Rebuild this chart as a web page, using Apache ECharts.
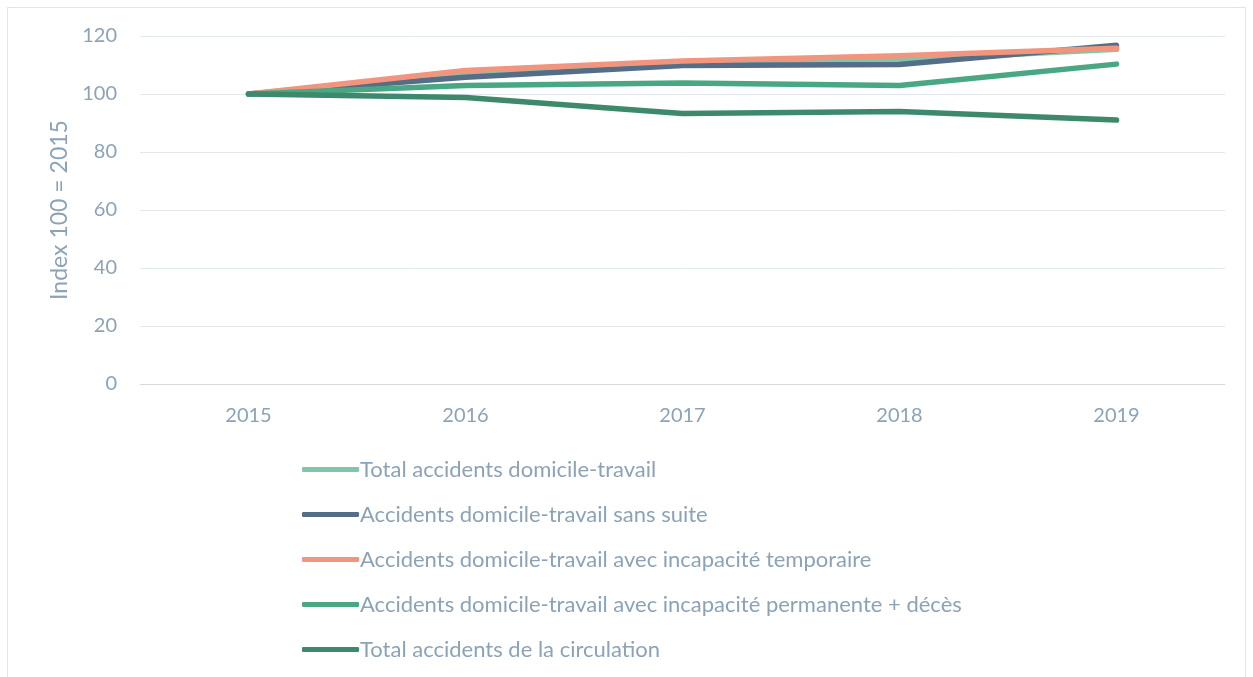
<!DOCTYPE html>
<html>
<head>
<meta charset="utf-8">
<script src="https://cdn.jsdelivr.net/npm/echarts@6/dist/echarts.min.js"></script>
<style>
  html, body { margin: 0; padding: 0; background: #fff; }
  #frame { position: absolute; left: 7px; top: 7px; width: 1239px; height: 680px; border: 1px solid #e2e6ea; box-sizing: border-box; }
  #chart { position: absolute; left: 0; top: 0; width: 1253px; height: 677px; }
</style>
</head>
<body>
<div id="frame"></div>
<div id="chart"></div>
<script>
// years on the x axis
var years = ['2015', '2016', '2017', '2018', '2019'];

// index values, 100 = 2015
var totalDomicile = [100, 106.8, 110.6, 111.7, 115.4];
var sansSuite = [100, 105.8, 109.8, 110.2, 116.8];
var incapTemporaire = [100, 108.1, 111.4, 113.2, 115.8];
var incapPermanente = [100, 102.9, 103.8, 102.9, 110.3];
var totalCirculation = [100, 98.8, 93.3, 94.0, 91.0];

var names = [
    'Total accidents domicile-travail',
    'Accidents domicile-travail sans suite',
    'Accidents domicile-travail avec incapacité temporaire',
    'Accidents domicile-travail avec incapacité permanente + décès',
    'Total accidents de la circulation'
];
var colors = ['#80c6a9', '#546e88', '#f2957f', '#4aa784', '#3e896b'];
var values = [totalDomicile, sansSuite, incapTemporaire, incapPermanente, totalCirculation];

var textColor = '#8ca3b7';
var font = 'Lato, "Open Sans", sans-serif';

var myChart = echarts.init(document.getElementById('chart'));

var series = names.map(function (n, i) {
    return {
        name: n,
        type: 'line',
        data: values[i],
        symbol: 'none',
        smooth: false,
        color: colors[i],
        lineStyle: { width: 5.5, color: colors[i], cap: 'round', join: 'round' },
        emphasis: { disabled: true }
    };
});

myChart.setOption({
    animation: false,
    textStyle: { fontFamily: font },
    grid: { left: 140, right: 28, top: 36, bottom: 293, containLabel: false },
    legend: {
        orient: 'vertical',
        left: 297,
        top: 452,
        itemWidth: 57,
        itemHeight: 5,
        itemGap: 20,
        icon: 'roundRect',
        data: names,
        textStyle: { color: textColor, fontSize: 22, fontFamily: font, padding: [0, 0, 0, -4], lineHeight: 25 }
    },
    xAxis: {
        type: 'category',
        data: years,
        boundaryGap: true,
        axisLine: { show: true, lineStyle: { color: '#d9d9d9', width: 1 } },
        axisTick: { show: false },
        axisLabel: { color: textColor, fontSize: 20, margin: 22 }
    },
    yAxis: {
        type: 'value',
        min: 0,
        max: 120,
        interval: 20,
        name: 'Index 100 = 2015',
        nameLocation: 'middle',
        nameGap: 69,
        nameRotate: 90,
        nameTextStyle: { color: textColor, fontSize: 23 },
        axisLine: { show: false },
        axisTick: { show: false },
        axisLabel: { color: textColor, fontSize: 20, margin: 23 },
        splitLine: { lineStyle: { color: '#e3e8ec', width: 1 } }
    },
    series: series
});
</script>
</body>
</html>
